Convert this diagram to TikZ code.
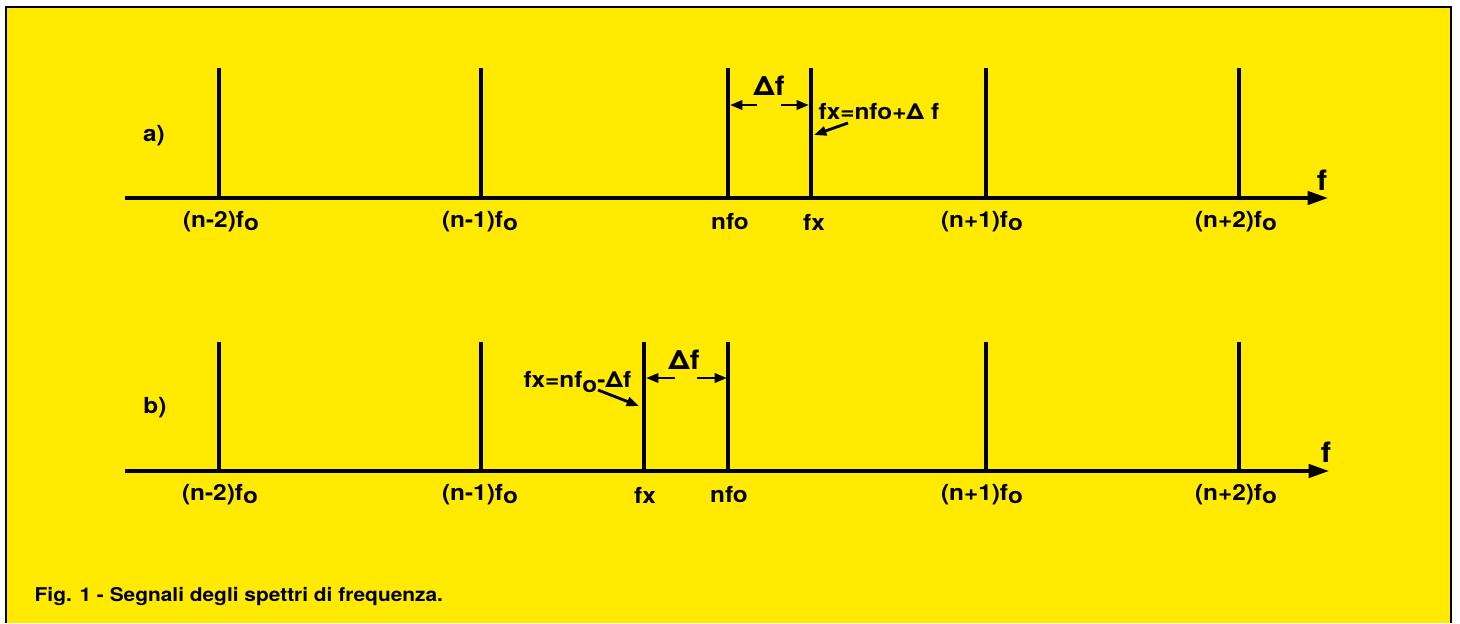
\documentclass[tikz,border=0pt]{standalone}
\usepackage{fontspec}
\setmainfont{TeX Gyre Heros}[FakeStretch=1.1]
\usetikzlibrary{arrows.meta}
\definecolor{paper}{RGB}{255,234,0}
\newcommand{\sbo}{\raisebox{-0.2ex}{o}}
\newcommand{\lowo}{\raisebox{-0.45ex}{o}}
\begin{document}
\begin{tikzpicture}[x=0.01cm,y=-0.01cm,
  spec/.style={line width=0.95pt},
  axis/.style={line width=0.95pt,-{Triangle[length=5.8pt,width=3.8pt]}},
  lbl/.style={inner sep=0pt,font=\fontsize{6.3}{7}\selectfont\bfseries},
  big/.style={inner sep=0pt,font=\fontsize{7.6}{8}\selectfont\bfseries},
  axl/.style={inner sep=0pt,font=\fontsize{8}{9}\selectfont\bfseries},
  dim/.style={line width=0.8pt,-{Triangle[length=3.5pt,width=2.6pt]}}]
\useasboundingbox (0,0) rectangle (1460,623);
\fill[white] (0,0) rectangle (1460,623);
\fill[paper] (6,7) rectangle (1451,623);
\draw[line width=0.6pt] (6,623) -- (6,7) -- (1451,7) -- (1451,623);

% ---------- a) ----------
\coordinate (a0) at (125,198);
\coordinate (aE) at (1328,198);
\draw[axis] (a0) -- (aE);
\node[axl] (af) at (1322,180) {f};
\node[lbl] (alab) at (154,136) {a)};
\foreach \x/\nm in {219/a1,481/a2,728/a3,811/a4,986/a5,1239/a6}{
  \coordinate (\nm t) at (\x,68);
  \coordinate (\nm b) at (\x,198);
  \draw[spec] (\nm t) -- (\nm b);
}
\node[lbl] (la1) at (221,222) {(n-2)f\sbo};
\node[lbl] (la2) at (480,222) {(n-1)f\sbo};
\node[lbl] (la3) at (730,222) {nfo};
\node[lbl] (la4) at (814,222) {fx};
\node[lbl] (la5) at (982,222) {(n+1)f\sbo};
\node[lbl] (la6) at (1236,222) {(n+2)f\sbo};
\node[big] (adf) at (769,86) {Δf};
\coordinate (al1) at (757,105);
\coordinate (al2) at (730,105);
\coordinate (ar1) at (781,105);
\coordinate (ar2) at (809,105);
\draw[dim] (al1) -- (al2);
\draw[dim] (ar1) -- (ar2);
\node[lbl,anchor=west] (afx) at (818,112) {fx=nfo+Δ f};
\coordinate (afxp) at (848,123);
\coordinate (afxq) at (814,135);
\draw[dim] (afxp) -- (afxq);

% ---------- b) ----------
\coordinate (b0) at (125,471);
\coordinate (bE) at (1329,471);
\draw[axis] (b0) -- (bE);
\node[axl] (bf) at (1326,452) {f};
\node[lbl] (blab) at (155,408) {b)};
\foreach \x/\nm in {219/b1,481/b2,644/b3,728/b4,986/b5,1239/b6}{
  \coordinate (\nm t) at (\x,342);
  \coordinate (\nm b) at (\x,471);
  \draw[spec] (\nm t) -- (\nm b);
}
\node[lbl] (lb1) at (220,495) {(n-2)f\sbo};
\node[lbl] (lb2) at (480,495) {(n-1)f\sbo};
\node[lbl] (lb3) at (645,495) {fx};
\node[lbl] (lb4) at (729,495) {nfo};
\node[lbl] (lb5) at (982,495) {(n+1)f\sbo};
\node[lbl] (lb6) at (1236,495) {(n+2)f\sbo};
\node[big] (bdf) at (684,360) {Δf};
\coordinate (bl1) at (675,378);
\coordinate (bl2) at (646,378);
\coordinate (br1) at (697,378);
\coordinate (br2) at (727,378);
\draw[dim] (bl1) -- (bl2);
\draw[dim] (br1) -- (br2);
\node[lbl,anchor=east] (bfx) at (632,382) {fx=nf\lowo-Δf};
\coordinate (bfxp) at (598,390);
\coordinate (bfxq) at (639,406);
\draw[dim] (bfxp) -- (bfxq);

% ---------- caption ----------
\node[lbl,anchor=west,font=\fontsize{5.4}{6}\selectfont\bfseries] (cap) at (34,596) {Fig. 1 - Segnali degli spettri di frequenza.};
\end{tikzpicture}
\end{document}
